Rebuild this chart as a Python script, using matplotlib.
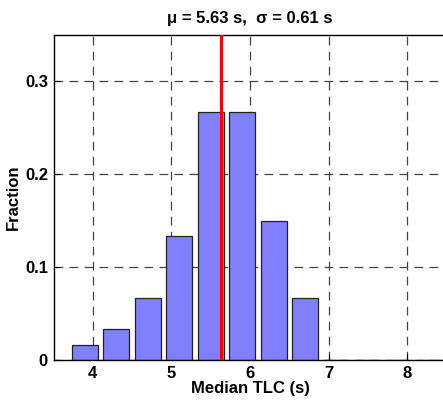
import matplotlib
matplotlib.use('Agg')
import matplotlib.pyplot as plt

plt.rcParams['font.family'] = ['Liberation Sans', 'DejaVu Sans']
plt.rcParams['font.weight'] = 'bold'

# Histogram data
bin_centers = [3.9, 4.3, 4.7, 5.1, 5.5, 5.9, 6.3, 6.7, 7.1, 7.5, 7.9, 8.3]
fractions = [1/60, 2/60, 4/60, 8/60, 16/60, 16/60, 9/60, 4/60, 0, 0, 0, 0]
mean_tlc = 5.63
std_tlc = 0.61

fig = plt.figure(figsize=(4.43, 4.0), dpi=100)
ax = fig.add_axes([0.1208, 0.1, 0.887, 0.8125])

ax.bar(bin_centers, fractions, width=0.33, color='#8080ff',
       edgecolor='#222222', linewidth=0.9, zorder=2)
ax.axvline(mean_tlc, color='#ff0000', linewidth=2.2, zorder=3)

ax.set_xlim(3.5, 8.5)
ax.set_ylim(0, 0.35)
ax.set_xticks([4, 5, 6, 7, 8])
ax.set_yticks([0, 0.1, 0.2, 0.3])
ax.set_yticklabels(['0', '0.1', '0.2', '0.3'])
ax.grid(True, color='#444444', linestyle=(0, (7, 5)), linewidth=0.9, zorder=0)
ax.set_axisbelow(True)
ax.tick_params(direction='in', labelsize=12, length=4, width=0.8, pad=4)
for s in ax.spines.values():
    s.set_linewidth(1.0)

ax.set_xlabel('Median TLC (s)', fontsize=12, fontweight='bold', labelpad=0)
ax.set_ylabel('Fraction', fontsize=12, fontweight='bold', labelpad=3)
ax.set_title('\u03bc = %.2f s,  \u03c3 = %.2f s' % (mean_tlc, std_tlc),
             fontsize=12, fontweight='bold', pad=9)

fig.savefig('out.png', dpi=100)
